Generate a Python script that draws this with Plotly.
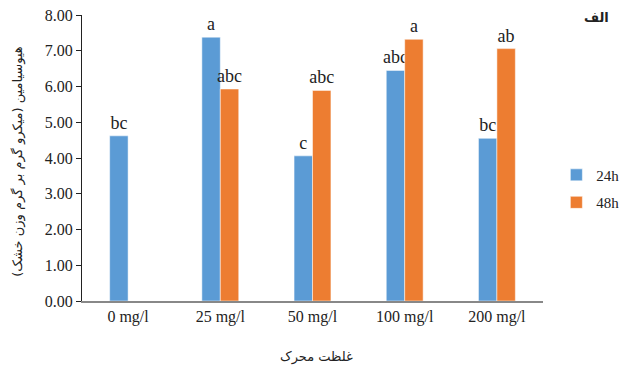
import plotly.graph_objects as go

categories = ["0 mg/l", "25 mg/l", "50 mg/l", "100 mg/l", "200 mg/l"]
vals_24h = [4.62, 7.38, 4.06, 6.45, 4.55]
vals_48h = [None, 5.93, 5.89, 7.32, 7.06]
labels_24h = ["bc", "a", "c", "abc", "bc"]
labels_48h = ["", "abc", "abc", "a", "ab"]
series_names = ["24h", "48h"]
y_ticks = [0, 1, 2, 3, 4, 5, 6, 7, 8]

serif = "Liberation Serif"
arab = "DejaVu Sans"

fig = go.Figure()
fig.add_trace(go.Bar(
    x=categories, y=vals_24h, name=series_names[0], legendgroup="g1",
    marker=dict(color="#5B9BD5", line=dict(color="white", width=0.5)),
    text=labels_24h, textposition="outside", cliponaxis=False,
    constraintext="none",
    textfont=dict(family=serif, size=18, color="#222"),
))
fig.add_trace(go.Bar(
    x=categories, y=vals_48h, name=series_names[1], legendgroup="g2",
    marker=dict(color="#ED7D31", line=dict(color="white", width=0.5)),
    text=labels_48h, textposition="outside", cliponaxis=False,
    constraintext="none",
    textfont=dict(family=serif, size=18, color="#222"),
))

fig.update_layout(
    width=621, height=369,
    margin=dict(l=82, r=78, t=15, b=68, autoexpand=False),
    paper_bgcolor="white", plot_bgcolor="white",
    barmode="group", bargap=0.6, bargroupgap=0,
    font=dict(family=serif, size=15, color="#222"),
    showlegend=True,
    legend=dict(x=1.029, y=0.393, xanchor="left", yanchor="middle",
                font=dict(family=serif, size=15, color="#222"),
                tracegroupgap=5, itemwidth=30),
    xaxis=dict(showline=True, linecolor="#888", linewidth=1.5,
               ticks="", tickfont=dict(family=serif, size=16, color="#222"),
               showgrid=False),
    yaxis=dict(range=[0, 8], tickvals=y_ticks, tickformat=".2f",
               showline=True, linecolor="#222", linewidth=1,
               ticks="outside", ticklen=5, tickcolor="#222",
               tickfont=dict(family=serif, size=16, color="#222"),
               showgrid=False, zeroline=False),
    annotations=[
        dict(text="هیوسیامین (میکرو گرم بر گرم وزن خشک)", xref="paper", yref="paper",
             x=-0.139, y=0.49, xanchor="center", yanchor="middle",
             textangle=-90, showarrow=False,
             font=dict(family=arab, size=13, color="#222")),
        dict(text="غلظت محرک", xref="paper", yref="paper",
             x=0.508, y=-0.196, xanchor="center", yanchor="middle", showarrow=False,
             font=dict(family=arab, size=13, color="#222")),
        dict(text="<b>الف</b>", xref="paper", yref="paper",
             x=1.115, y=0.99, xanchor="center", yanchor="middle", showarrow=False,
             font=dict(family=arab, size=13, color="#222")),
    ],
)

fig.write_html("out.html",
               config={"displayModeBar": False},
               post_script="document.body.style.margin='0';document.body.style.overflow='hidden';")
